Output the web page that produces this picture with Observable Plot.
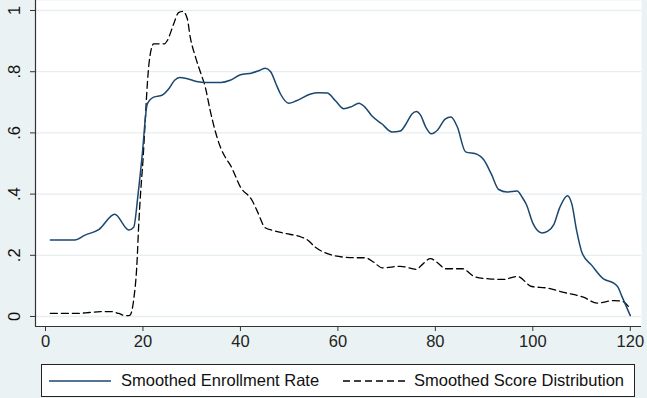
<!DOCTYPE html>
<html>
<head>
<meta charset="utf-8">
<script src="https://cdn.jsdelivr.net/npm/d3@7"></script>
<script src="https://cdn.jsdelivr.net/npm/@observablehq/plot@0.6"></script>
<style>
  html, body { margin: 0; padding: 0; background: #EAF2F3; }
  #wrap { position: relative; width: 647px; height: 398px; background: #EAF2F3; font-family: "Liberation Sans", Arial, sans-serif; }
  #legend { position: absolute; left: 41px; top: 364px; width: 592px; height: 31px; background: #fff; border: 1px solid #222; font-size: 16.5px; color: #111; }
  #legend .item { position: absolute; top: 0; height: 31px; display: flex; align-items: center; }
  #legend svg { display: block; }
</style>
</head>
<body>
<div id="wrap"></div>
<script>
// Smoothed Enrollment Rate (x = score, y = rate)
const enrollX = [1, 6, 8, 11, 14.2, 17.1, 18.1, 19.0, 19.8, 20.9, 22.2, 23.9, 25.3, 26.5, 27.5, 29.1, 31, 33, 36, 37.9, 40, 42.4, 44, 45.1, 46.2, 47.3, 48.2, 49.9, 51.5, 54.4, 56, 57.8, 59.5, 61.2, 62.8, 64.3, 65.5, 67.0, 69, 71.1, 72.8, 74, 75.2, 76.1, 77, 78, 79.2, 80.5, 82, 83.2, 84.5, 86.2, 88.6, 89.9, 91.5, 93.0, 94.7, 96.8, 97.8, 98.7, 100, 101.9, 103, 104.3, 105.5, 107.1, 108, 109, 110.1, 112.1, 114.5, 116.6, 117.5, 118.3, 120];
const enrollY = [.25, .25, .265, .285, .334, .283, .292, .40, .52, .695, .717, .723, .744, .772, .781, .777, .768, .765, .765, .772, .790, .796, .805, .811, .80, .76, .728, .697, .705, .727, .731, .730, .705, .679, .686, .697, .685, .655, .630, .603, .606, .63, .662, .670, .657, .62, .597, .610, .645, .652, .62, .538, .530, .513, .465, .415, .407, .410, .39, .365, .305, .273, .278, .300, .355, .395, .368, .28, .208, .167, .123, .109, .095, .065, .003];

// Smoothed Score Distribution
const scoreX = [1, 6, 9, 11.3, 13.5, 15, 16.4, 17.3, 18.1, 18.8, 19.1, 19.5, 20.0, 20.4, 20.9, 21.3, 22.2, 24.4, 25.0, 26.3, 27.3, 28.2, 29.1, 29.7, 30.8, 31.8, 32.8, 33.8, 34.9, 35.9, 37.1, 38.0, 40, 42.4, 43.4, 45.1, 46.8, 49, 52.6, 53.7, 55.4, 58.5, 61.2, 64, 65.6, 67.3, 69.1, 72.8, 76.2, 77, 79, 80.5, 82.1, 85.5, 88.2, 91, 94, 96.8, 99.8, 102.9, 106.3, 110.4, 113.2, 116.6, 118.3, 120];
const scoreY = [.010, .010, .013, .016, .016, .010, .003, .004, .055, .183, .29, .40, .51, .62, .76, .835, .891, .891, .902, .956, .993, .997, .973, .913, .847, .798, .749, .673, .602, .553, .515, .493, .423, .379, .346, .290, .281, .272, .259, .251, .226, .202, .194, .192, .192, .178, .159, .164, .154, .165, .189, .175, .156, .156, .129, .123, .121, .131, .098, .093, .079, .063, .044, .052, .050, .025];

const xTicks = [0, 20, 40, 60, 80, 100, 120];
const yTicks = [0, 0.2, 0.4, 0.6, 0.8, 1];
const seriesNames = ["Smoothed Enrollment Rate", "Smoothed Score Distribution"];

const enroll = enrollX.map((x, i) => ({x, y: enrollY[i]}));
const score = scoreX.map((x, i) => ({x, y: scoreY[i]}));

const xDom = [-2.05, 122.3];
const yDom = [-0.0327, 1.0327];
const fmt = d => d === 0 ? "0" : d === 1 ? "1" : String(d).replace(/^0/, "");
const navy = "#1a476f";

const chart = Plot.plot({
  width: 647,
  height: 358,
  marginLeft: 35,
  marginRight: 6,
  marginTop: 0,
  marginBottom: 32,
  style: { background: "#EAF2F3", fontFamily: "'Liberation Sans', Arial, sans-serif", fontSize: "16.5px", color: "#222" },
  x: { domain: xDom, label: null },
  y: { domain: yDom, label: null },
  marks: [
    Plot.frame({ fill: "white", stroke: "none" }),
    Plot.gridY(yTicks, { stroke: "#E6EEEF", strokeOpacity: 1, strokeWidth: 1.3 }),
    Plot.axisX(xTicks, { tickSize: 5, tickPadding: 4, fontSize: 16.5, stroke: "#333", label: null, tickFormat: d => String(d) }),
    Plot.axisY(yTicks, { tickSize: 5, tickFormat: () => "", label: null, stroke: "#333" }),
    Plot.text(yTicks, { y: d => d, frameAnchor: "left", dx: -21, text: fmt, rotate: -90, textAnchor: "middle", lineAnchor: "middle", fontSize: 16.5, fill: "#111" }),
    Plot.ruleY([yDom[0]], { stroke: "#333", strokeWidth: 1.2 }),
    Plot.ruleX([xDom[0]], { stroke: "#333", strokeWidth: 1.2 }),
    Plot.line(score, { x: "x", y: "y", stroke: "#000", strokeWidth: 1.3, strokeDasharray: "7,4", curve: "monotone-x" }),
    Plot.line(enroll, { x: "x", y: "y", stroke: navy, strokeWidth: 1.5, curve: "monotone-x" })
  ]
});

const wrap = document.getElementById("wrap");
wrap.appendChild(chart);

const legend = document.createElement("div");
legend.id = "legend";
legend.innerHTML = `
  <div class="item" style="left:7px">
    <svg width="62" height="4"><line x1="0" y1="2" x2="62" y2="2" stroke="${navy}" stroke-width="1.5"/></svg>
    <span style="margin-left:10px">${seriesNames[0]}</span>
  </div>
  <div class="item" style="left:301px">
    <svg width="62" height="4"><line x1="0" y1="2" x2="62" y2="2" stroke="#000" stroke-width="1.3" stroke-dasharray="7,4"/></svg>
    <span style="margin-left:9px">${seriesNames[1]}</span>
  </div>`;
wrap.appendChild(legend);
</script>
</body>
</html>
